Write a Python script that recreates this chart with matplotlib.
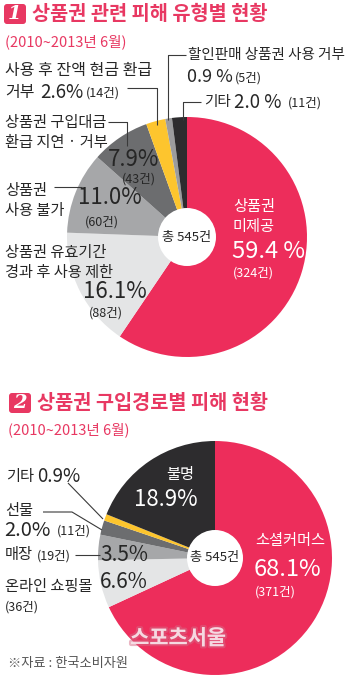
import matplotlib
matplotlib.use("Agg")
import matplotlib.pyplot as plt
from matplotlib.patches import Circle, FancyBboxPatch
import matplotlib.patheffects as pe

plt.rcParams['font.family'] = ['Noto Sans CJK KR', 'DejaVu Sans']

# Chart 1: damage by type
types1 = ['상품권 미제공', '상품권 유효기간 경과 후 사용 제한', '상품권 사용 불가',
          '상품권 구입대금 환급 지연 · 거부', '사용 후 잔액 현금 환급 거부',
          '할인판매 상품권 사용 거부', '기타']
pct1 = [59.4, 16.1, 11.0, 7.9, 2.6, 0.9, 2.0]
cnt1 = [324, 88, 60, 43, 14, 5, 11]
colors1 = ['#ED2D5B', '#E4E5E6', '#A6A7A9', '#6C6D6F', '#FDC52E', '#9C9C9E', '#2D2C2E']

# Chart 2: damage by purchase channel
chan2 = ['소셜커머스', '온라인 쇼핑몰', '매장', '선물', '기타', '불명']
pct2 = [68.1, 6.6, 3.5, 2.0, 0.9, 18.9]
cnt2 = [371, 36, 19, 11, None, None]
colors2 = ['#ED2D5B', '#E4E5E6', '#A6A7A9', '#6C6D6F', '#FDC52E', '#2D2C2E']

total = 545
period = '(2010~2013년 6월)'
RED = '#E83862'
INK = '#262626'
LBL = 11      # korean label size
CNT = 9       # count size

W, H = 350, 677
fig = plt.figure(figsize=(W / 100, H / 100), dpi=100)
ax = fig.add_axes([0, 0, 1, 1])


def Y(y):
    return H - y


def txt(x, y, s, size=LBL, color=INK, ha='left', **kw):
    ax.text(x, Y(y), s, fontsize=size, color=color, ha=ha, va='center', **kw)


def leader(xs, ys):
    ax.plot(xs, [Y(v) for v in ys], color='#3a3a3a', lw=0.8, solid_capstyle='butt')


def title_block(num, title, y, bx):
    box = FancyBboxPatch((bx, Y(y + 10)), 22, 20, boxstyle='round,pad=0,rounding_size=3',
                         fc=RED, ec='none')
    ax.add_patch(box)
    ax.text(bx + 11, Y(y), num, fontsize=14, color='white', ha='center', va='center',
            fontweight='bold', style='italic', family=['DejaVu Serif'])
    txt(bx + 28, y, title, size=14.2, color=RED, fontweight='bold')


def donut(values, colors, cx, cy, r, hole):
    ax.pie(values, colors=colors, startangle=90, counterclock=False,
           center=(cx, Y(cy)), radius=r, frame=True, wedgeprops=dict(linewidth=0))
    ax.add_patch(Circle((cx, Y(cy)), hole, fc='white', ec='none', zorder=3))
    ax.text(cx, Y(cy), f'총 {total}건', fontsize=9.5, color=INK, ha='center',
            va='center', zorder=4)


# ---- chart 1 ----
title_block('1', '상품권 관련 피해 유형별 현황', 14, 4)
txt(5, 42, period, size=10.5, color=RED)
donut(pct1, colors1, 187, 237, 120, 29)

# 할인판매 상품권 사용 거부
txt(188, 55, '할인판매 상품권 사용 거부', size=10.5)
txt(187, 77, f'{pct1[5]:.1f} %', size=13)
txt(235, 78, f'({cnt1[5]}건)', size=CNT)
leader([186, 168, 168], [55, 55, 120])

# 기타
txt(204, 102, '기타', size=10.5)
txt(234, 102, f'{pct1[6]:.1f} %', size=13.5)
txt(288, 103, f'({cnt1[6]}건)', size=CNT)
leader([201, 183, 183], [102, 102, 120])

# 사용 후 잔액 현금 환급 거부
txt(5, 70, '사용 후 잔액 현금 환급', size=11.5)
txt(5, 92, '거부', size=11.5)
txt(40, 92, f'{pct1[4]:.1f}%', size=13.5)
txt(86, 93, f'({cnt1[4]}건)', size=CNT)
leader([127, 157, 157], [88, 88, 125])

# 구입대금 환급
txt(5, 123, '상품권 구입대금', size=LBL)
txt(5, 143, '환급 지연 · 거부', size=LBL)
leader([108, 127, 127], [122, 122, 146])
txt(134, 160, f'{pct1[3]:.1f}%', size=16, ha='center')
txt(139, 179, f'({cnt1[3]}건)', size=CNT, ha='center')

# 사용 불가
txt(5, 191, '상품권', size=LBL)
txt(5, 211, '사용 불가', size=LBL)
leader([54, 82], [187, 187])
txt(110, 198, f'{pct1[2]:.1f}%', size=16, ha='center')
txt(102, 222, f'({cnt1[2]}건)', size=CNT, ha='center')

# 유효기간
txt(5, 252, '상품권 유효기간', size=LBL)
txt(5, 273, '경과 후 사용 제한', size=LBL)
txt(115, 292, f'{pct1[1]:.1f}%', size=16, ha='center')
txt(106, 313, f'({cnt1[1]}건)', size=CNT, ha='center')

# 미제공
txt(233, 207, '상품권', size=LBL, color='white')
txt(233, 226, '미제공', size=LBL, color='white')
txt(232, 251, f'{pct1[0]:.1f} %', size=17, color='white')
txt(233, 273, f'({cnt1[0]}건)', size=CNT, color='white')

# ---- chart 2 ----
title_block('2', '상품권 구입경로별 피해 현황', 403, 9)
txt(8, 430, period, size=10.5, color=RED)
donut(pct2, colors2, 215, 558, 117, 28)

# 기타
txt(6, 477, '기타', size=LBL)
txt(37, 477, f'{pct2[4]:.1f}%', size=13.5)
leader([68, 103], [483, 519])

# 선물
txt(5, 511, '선물', size=LBL)
txt(4, 530, f'{pct2[3]:.1f}%', size=14.5)
txt(57, 531, f'({cnt2[3]}건)', size=CNT)
leader([43, 72, 102], [512, 512, 530])

# 매장
txt(5, 555, '매장', size=LBL)
txt(37, 556, f'({cnt2[2]}건)', size=CNT)
leader([75, 100], [555, 555])
txt(124, 555, f'{pct2[2]:.1f}%', size=15, ha='center')

# 온라인 쇼핑몰
txt(124, 582, f'{pct2[1]:.1f}%', size=15, ha='center')
txt(5, 587, '온라인 쇼핑몰', size=LBL)
txt(5, 607, f'({cnt2[1]}건)', size=CNT)

# 불명
txt(194, 475, '불명', size=LBL, color='white', ha='right')
txt(198, 500, f'{pct2[5]:.1f}%', size=16, color='white', ha='right')

# 소셜커머스
txt(255, 540, '소셜커머스', size=LBL, color='white')
txt(254, 569, f'{pct2[0]:.1f}%', size=17, color='white')
txt(255, 592, f'({cnt2[0]}건)', size=CNT, color='white')

# watermark and source
ax.text(178, Y(638), '스포츠서울', fontsize=15, fontweight='bold', color='#F8E4EA',
        ha='center', va='center', alpha=0.9,
        path_effects=[pe.withStroke(linewidth=3, foreground='#D66A86', alpha=0.5)])
txt(8, 663, '※자료 : 한국소비자원', size=9.5, color='#555555')

ax.set_xlim(0, W)
ax.set_ylim(0, H)
ax.set_aspect('equal')
ax.axis('off')

fig.savefig('out.png', dpi=100, facecolor='white')
